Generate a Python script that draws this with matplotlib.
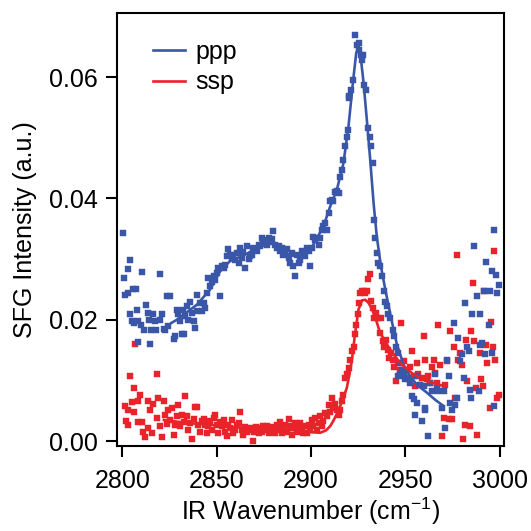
import numpy as np
import matplotlib
matplotlib.use("Agg")
import matplotlib.pyplot as plt

# ppp data points (wavenumber, intensity)
ppp_x = [2800.5, 2804.1, 2802.7, 2800.9, 2801.4, 2803.2, 2805.5, 2807.3, 2810.3, 2804.1,
         2805.0, 2806.2, 2807.6, 2808.5, 2809.7, 2811.5, 2812.6, 2813.3, 2814.3, 2815.0,
         2808.5, 2814.7, 2816.4, 2820.0, 2817.9, 2820.0, 2820.9, 2817.3, 2823.5, 2825.3,
         2822.6, 2824.4, 2821.8, 2827.1, 2828.0, 2828.8, 2829.7, 2830.6, 2831.5, 2832.4,
         2832.0, 2833.2, 2834.5, 2835.9, 2835.0, 2836.8, 2837.7, 2838.6, 2839.5, 2839.8,
         2841.2, 2842.1, 2843.0, 2843.9, 2844.7, 2845.6, 2846.5, 2847.4, 2848.3, 2849.2,
         2850.0, 2851.8, 2850.9, 2852.7, 2853.6, 2854.5, 2855.4, 2856.2, 2857.1, 2858.0,
         2858.9, 2859.8, 2860.7, 2861.6, 2862.4, 2863.3, 2864.2, 2865.1, 2866.0, 2866.9,
         2867.7, 2868.6, 2869.5, 2870.4, 2871.3, 2872.2, 2873.0, 2873.9, 2874.8, 2875.7,
         2876.6, 2877.5, 2878.3, 2879.2, 2880.1, 2881.0, 2881.9, 2882.8, 2883.6, 2884.5,
         2885.4, 2886.3, 2887.2, 2888.1, 2888.9, 2889.8, 2890.7, 2891.6, 2892.5, 2893.4,
         2894.3, 2895.1, 2896.0, 2896.9, 2897.8, 2898.7, 2899.6, 2900.4, 2901.3, 2902.2,
         2903.1, 2904.0, 2904.9, 2905.7, 2906.6, 2907.5, 2908.4, 2909.3, 2910.2, 2911.0,
         2911.9, 2912.8, 2913.7, 2914.6, 2915.5, 2916.3, 2917.2, 2918.1, 2919.0, 2919.4,
         2919.9, 2920.4, 2921.1, 2922.2, 2923.4, 2924.3, 2925.2, 2925.7, 2926.4, 2927.0,
         2927.5, 2928.2, 2929.3, 2930.0, 2931.1, 2931.7, 2932.8, 2933.2, 2934.1, 2934.9,
         2935.8, 2936.7, 2937.6, 2938.5, 2939.4, 2940.2, 2941.1, 2942.0, 2943.4, 2944.1,
         2945.2, 2945.9, 2947.0, 2948.2, 2949.1, 2950.0, 2951.2, 2952.3, 2953.5, 2954.4,
         2955.3, 2956.2, 2957.6, 2958.9, 2959.7, 2960.6, 2962.3, 2963.2, 2964.1, 2965.9,
         2967.6, 2969.4, 2971.2, 2972.1, 2973.0, 2973.9, 2975.6, 2976.5, 2977.4, 2978.2,
         2979.1, 2980.0, 2980.9, 2981.8, 2982.7, 2983.6, 2984.4, 2985.3, 2986.6, 2988.0,
         2988.9, 2989.8, 2990.7, 2991.5, 2992.4, 2992.9, 2994.2, 2995.1, 2996.0, 2996.8,
         2997.2, 2998.2, 2998.9, 2999.5, 2985.0, 2946.4, 2947.3, 2956.2, 2960.6, 2966.8,
         2970.3, 2974.7, 2989.8, 2996.0]
ppp_y = [0.0343, 0.0299, 0.0283, 0.0269, 0.0241, 0.0244, 0.0251, 0.0251, 0.0278, 0.0209,
         0.0198, 0.0194, 0.0217, 0.0198, 0.0192, 0.0184, 0.0225, 0.0211, 0.0200, 0.0184,
         0.0163, 0.0160, 0.0209, 0.0276, 0.0184, 0.0200, 0.0209, 0.0198, 0.0240, 0.0239,
         0.0184, 0.0190, 0.0185, 0.0168, 0.0173, 0.0217, 0.0209, 0.0198, 0.0176, 0.0176,
         0.0217, 0.0206, 0.0222, 0.0230, 0.0200, 0.0211, 0.0198, 0.0187, 0.0214, 0.0241,
         0.0227, 0.0214, 0.0228, 0.0219, 0.0244, 0.0269, 0.0255, 0.0263, 0.0272, 0.0266,
         0.0277, 0.0240, 0.0285, 0.0288, 0.0285, 0.0291, 0.0305, 0.0317, 0.0307, 0.0302,
         0.0306, 0.0299, 0.0310, 0.0294, 0.0318, 0.0302, 0.0311, 0.0285, 0.0321, 0.0300,
         0.0305, 0.0307, 0.0318, 0.0316, 0.0313, 0.0324, 0.0321, 0.0335, 0.0329, 0.0332,
         0.0324, 0.0335, 0.0329, 0.0333, 0.0346, 0.0324, 0.0318, 0.0321, 0.0313, 0.0318,
         0.0307, 0.0310, 0.0317, 0.0302, 0.0294, 0.0310, 0.0288, 0.0272, 0.0306, 0.0294,
         0.0299, 0.0313, 0.0310, 0.0305, 0.0318, 0.0313, 0.0288, 0.0318, 0.0336, 0.0332,
         0.0335, 0.0324, 0.0335, 0.0348, 0.0354, 0.0359, 0.0348, 0.0376, 0.0395, 0.0398,
         0.0395, 0.0410, 0.0412, 0.0409, 0.0436, 0.0447, 0.0464, 0.0486, 0.0502, 0.0513,
         0.0565, 0.0569, 0.0579, 0.0595, 0.0669, 0.0653, 0.0656, 0.0645, 0.0636, 0.0628,
         0.0636, 0.0587, 0.0579, 0.0516, 0.0502, 0.0486, 0.0458, 0.0365, 0.0335, 0.0310,
         0.0294, 0.0288, 0.0272, 0.0247, 0.0230, 0.0222, 0.0209, 0.0203, 0.0184, 0.0173,
         0.0156, 0.0145, 0.0129, 0.0118, 0.0108, 0.0102, 0.0104, 0.0096, 0.0074, 0.0069,
         0.0044, 0.0107, 0.0093, 0.0033, 0.0091, 0.0055, 0.0008, 0.0096, 0.0082, 0.0110,
         0.0082, 0.0055, 0.0022, 0.0134, 0.0107, 0.0063, 0.0195, 0.0060, 0.0071, 0.0170,
         0.0132, 0.0143, 0.0104, 0.0228, 0.0156, 0.0148, 0.0085, 0.0209, 0.0321, 0.0239,
         0.0082, 0.0209, 0.0162, 0.0247, 0.0143, 0.0296, 0.0192, 0.0247, 0.0280, 0.0058,
         0.0348, 0.0274, 0.0244, 0.0258, 0.0072, 0.0107, 0.0110, 0.0063, 0.0052, 0.0088,
         0.0082, 0.0052, 0.0159, 0.0146]

# ssp data points
ssp_x = [2806.7, 2804.1, 2818.2, 2806.2, 2809.4, 2808.0, 2805.0, 2801.4, 2803.2, 2805.9,
         2801.9, 2802.7, 2808.5, 2810.3, 2811.1, 2812.1, 2813.8, 2813.3, 2814.7, 2815.6,
         2816.4, 2818.2, 2818.7, 2820.0, 2820.9, 2821.8, 2822.6, 2823.5, 2824.4, 2825.3,
         2826.2, 2827.1, 2828.0, 2828.8, 2829.7, 2830.6, 2831.5, 2832.4, 2833.2, 2834.1,
         2835.0, 2835.9, 2836.8, 2837.7, 2838.6, 2839.5, 2840.3, 2841.2, 2842.1, 2843.0,
         2843.9, 2844.7, 2845.6, 2846.5, 2847.4, 2848.3, 2849.2, 2850.0, 2850.9, 2851.8,
         2852.7, 2853.6, 2854.5, 2855.4, 2856.2, 2857.1, 2858.0, 2858.9, 2859.8, 2860.7,
         2861.6, 2862.4, 2863.3, 2864.2, 2865.1, 2866.0, 2866.9, 2867.7, 2869.1, 2869.8,
         2870.9, 2872.2, 2873.0, 2873.9, 2874.8, 2875.7, 2876.6, 2877.5, 2878.3, 2879.2,
         2880.1, 2881.0, 2881.9, 2882.8, 2883.6, 2884.5, 2885.4, 2886.3, 2887.2, 2888.1,
         2888.9, 2889.8, 2890.7, 2891.6, 2892.5, 2893.4, 2894.3, 2895.1, 2896.0, 2896.9,
         2897.8, 2898.7, 2899.6, 2900.4, 2901.3, 2902.2, 2903.1, 2904.0, 2904.9, 2905.7,
         2906.6, 2907.5, 2908.4, 2909.3, 2910.2, 2911.0, 2911.9, 2912.8, 2913.7, 2914.6,
         2915.5, 2916.3, 2917.2, 2918.1, 2919.0, 2919.9, 2920.8, 2921.7, 2922.6, 2923.4,
         2924.0, 2924.7, 2925.2, 2926.1, 2927.0, 2927.9, 2928.8, 2929.6, 2930.0, 2931.1,
         2931.7, 2932.8, 2933.5, 2934.6, 2935.3, 2936.4, 2937.1, 2938.1, 2938.8, 2939.9,
         2940.6, 2941.6, 2942.3, 2943.4, 2944.1, 2945.2, 2945.9, 2947.0, 2947.7, 2948.8,
         2949.5, 2950.5, 2951.2, 2952.3, 2953.5, 2954.4, 2955.3, 2956.2, 2957.0, 2957.9,
         2958.8, 2959.7, 2960.6, 2961.4, 2962.3, 2963.2, 2964.1, 2965.0, 2965.9, 2966.7,
         2967.6, 2968.5, 2969.4, 2970.3, 2971.2, 2972.1, 2973.0, 2973.9, 2974.8, 2975.6,
         2976.5, 2977.4, 2978.2, 2979.1, 2980.0, 2980.5, 2981.8, 2982.3, 2983.0, 2984.1,
         2984.8, 2985.8, 2986.6, 2987.6, 2988.3, 2989.4, 2990.1, 2991.2, 2991.9, 2992.9,
         2993.6, 2994.7, 2995.4, 2996.5, 2997.2, 2997.7, 2998.6, 2999.5]
ssp_y = [0.0160, 0.0108, 0.0110, 0.0088, 0.0077, 0.0066, 0.0064, 0.0058, 0.0052, 0.0049,
         0.0033, 0.0026, 0.0031, 0.0031, 0.0016, 0.0007, 0.0022, 0.0066, 0.0052, 0.0014,
         0.0062, 0.0038, 0.0071, 0.0025, 0.0007, 0.0066, 0.0044, 0.0029, 0.0052, 0.0035,
         0.0055, 0.0011, 0.0027, 0.0041, 0.0060, 0.0025, 0.0044, 0.0031, 0.0075, 0.0041,
         0.0019, 0.0030, 0.0003, 0.0036, 0.0057, 0.0057, 0.0027, 0.0016, 0.0033, 0.0037,
         0.0026, 0.0014, 0.0025, 0.0033, 0.0019, 0.0038, 0.0044, 0.0027, 0.0014, 0.0031,
         0.0025, 0.0035, 0.0016, 0.0008, 0.0027, 0.0022, 0.0035, 0.0014, 0.0019, 0.0026,
         0.0030, 0.0049, 0.0019, 0.0011, 0.0024, 0.0016, 0.0019, 0.0022, 0.0000, 0.0016,
         0.0024, 0.0014, 0.0022, 0.0016, 0.0025, 0.0019, 0.0025, 0.0014, 0.0022, 0.0016,
         0.0024, 0.0014, 0.0027, 0.0019, 0.0031, 0.0014, 0.0022, 0.0026, 0.0016, 0.0037,
         0.0025, 0.0011, 0.0022, 0.0030, 0.0016, 0.0025, 0.0030, 0.0019, 0.0013, 0.0025,
         0.0014, 0.0027, 0.0019, 0.0035, 0.0025, 0.0038, 0.0019, 0.0030, 0.0042, 0.0025,
         0.0033, 0.0047, 0.0041, 0.0060, 0.0049, 0.0071, 0.0055, 0.0062, 0.0052, 0.0044,
         0.0052, 0.0066, 0.0077, 0.0104, 0.0110, 0.0121, 0.0134, 0.0148, 0.0156, 0.0176,
         0.0192, 0.0209, 0.0228, 0.0244, 0.0247, 0.0247, 0.0244, 0.0247, 0.0267, 0.0276,
         0.0231, 0.0219, 0.0203, 0.0211, 0.0203, 0.0179, 0.0203, 0.0165, 0.0156, 0.0167,
         0.0151, 0.0137, 0.0145, 0.0134, 0.0123, 0.0099, 0.0129, 0.0118, 0.0195, 0.0110,
         0.0132, 0.0115, 0.0102, 0.0123, 0.0148, 0.0107, 0.0091, 0.0129, 0.0110, 0.0093,
         0.0104, 0.0173, 0.0134, 0.0102, 0.0107, 0.0096, 0.0123, 0.0134, 0.0112, 0.0096,
         0.0192, 0.0126, 0.0008, 0.0038, 0.0093, 0.0132, 0.0036, 0.0181, 0.0036, 0.0156,
         0.0071, 0.0307, 0.0134, 0.0145, 0.0126, 0.0003, 0.0027, 0.0167, 0.0099, 0.0025,
         0.0181, 0.0261, 0.0165, 0.0088, 0.0011, 0.0145, 0.0102, 0.0091, 0.0247, 0.0159,
         0.0129, 0.0055, 0.0196, 0.0156, 0.0314, 0.0134, 0.0071, 0.0077]

# fit curves
ppp_fit_x = [2826.0, 2828.8, 2839.5, 2846.5, 2851.8, 2857.1, 2864.2, 2871.3, 2876.6, 2880.1,
             2883.6, 2888.9, 2894.3, 2899.6, 2903.1, 2906.6, 2910.2, 2913.7, 2917.2, 2919.9,
             2922.2, 2924.0, 2925.2, 2926.4, 2927.9, 2929.6, 2931.4, 2933.2, 2934.9, 2937.1,
             2939.4, 2942.0, 2945.5, 2949.1, 2952.6, 2956.2, 2961.5, 2966.0, 2970.3]
ppp_fit_y = [0.0195, 0.0200, 0.0225, 0.0250, 0.0280, 0.0297, 0.0306, 0.0318, 0.0324, 0.0328,
             0.0318, 0.0306, 0.0305, 0.0315, 0.0334, 0.0354, 0.0387, 0.0414, 0.0458, 0.0519,
             0.0590, 0.0640, 0.0648, 0.0632, 0.0590, 0.0530, 0.0464, 0.0392, 0.0337, 0.0288,
             0.0250, 0.0210, 0.0160, 0.0126, 0.0107, 0.0093, 0.0080, 0.0068, 0.0058]

ssp_fit_x = [2822.0, 2835.0, 2850.0, 2865.0, 2880.0, 2894.3, 2900.0, 2904.9, 2908.0, 2910.2,
             2911.9, 2913.7, 2915.5, 2917.2, 2919.0, 2920.5, 2921.7, 2923.4, 2925.2, 2927.0,
             2928.8, 2930.5, 2932.3, 2934.5, 2936.7, 2942.0, 2947.3, 2954.4, 2961.5, 2970.3]
ssp_fit_y = [0.0035, 0.0030, 0.0026, 0.0022, 0.0020, 0.0018, 0.0015, 0.0014, 0.0018, 0.0025,
             0.0034, 0.0045, 0.0058, 0.0072, 0.0088, 0.0112, 0.0134, 0.0178, 0.0217, 0.0232,
             0.0233, 0.0228, 0.0218, 0.0200, 0.0178, 0.0151, 0.0129, 0.0110, 0.0099, 0.0091]

blue = '#3a56a8'
red = '#e8232a'

plt.rcParams['font.family'] = ['Liberation Sans', 'DejaVu Sans']
plt.rcParams['mathtext.fontset'] = 'custom'
plt.rcParams['mathtext.rm'] = 'Liberation Sans'
plt.rcParams['mathtext.default'] = 'regular'

fig = plt.figure(figsize=(5.31, 5.31), dpi=100)
ax = fig.add_axes([0.221, 0.161, 0.729, 0.814])

ax.plot(ssp_x, ssp_y, 's', color=red, ms=4.6, mew=0.3, zorder=2)
ax.plot(ppp_x, ppp_y, 's', color=blue, ms=4.6, mew=0.3, zorder=3)
ax.plot(ppp_fit_x, ppp_fit_y, '-', color=blue, lw=1.9, label='ppp', zorder=4)
ax.plot(ssp_fit_x, ssp_fit_y, '-', color=red, lw=1.9, label='ssp', zorder=4)

ax.set_xlim(2797.3, 3002.6)
ax.set_ylim(-0.0007, 0.0705)
ax.set_xticks([2800, 2850, 2900, 2950, 3000])
ax.set_yticks([0.00, 0.02, 0.04, 0.06])
ax.set_yticklabels(['0.00', '0.02', '0.04', '0.06'])

for s in ax.spines.values():
    s.set_linewidth(1.5)
ax.tick_params(direction='out', length=8, width=1.5, labelsize=18, pad=6)
ax.tick_params(axis='x', pad=9)

ax.set_xlabel('IR Wavenumber (cm$^{-1}$)', fontsize=18, labelpad=2)
ax.set_ylabel('SFG Intensity (a.u.)', fontsize=18, labelpad=9)

ax.legend(loc='upper left', bbox_to_anchor=(0.092, 0.938), frameon=False,
          fontsize=18, handlelength=1.3, handletextpad=0.4, labelspacing=0.25,
          borderpad=0, borderaxespad=0)

fig.savefig('out.png', dpi=100)
